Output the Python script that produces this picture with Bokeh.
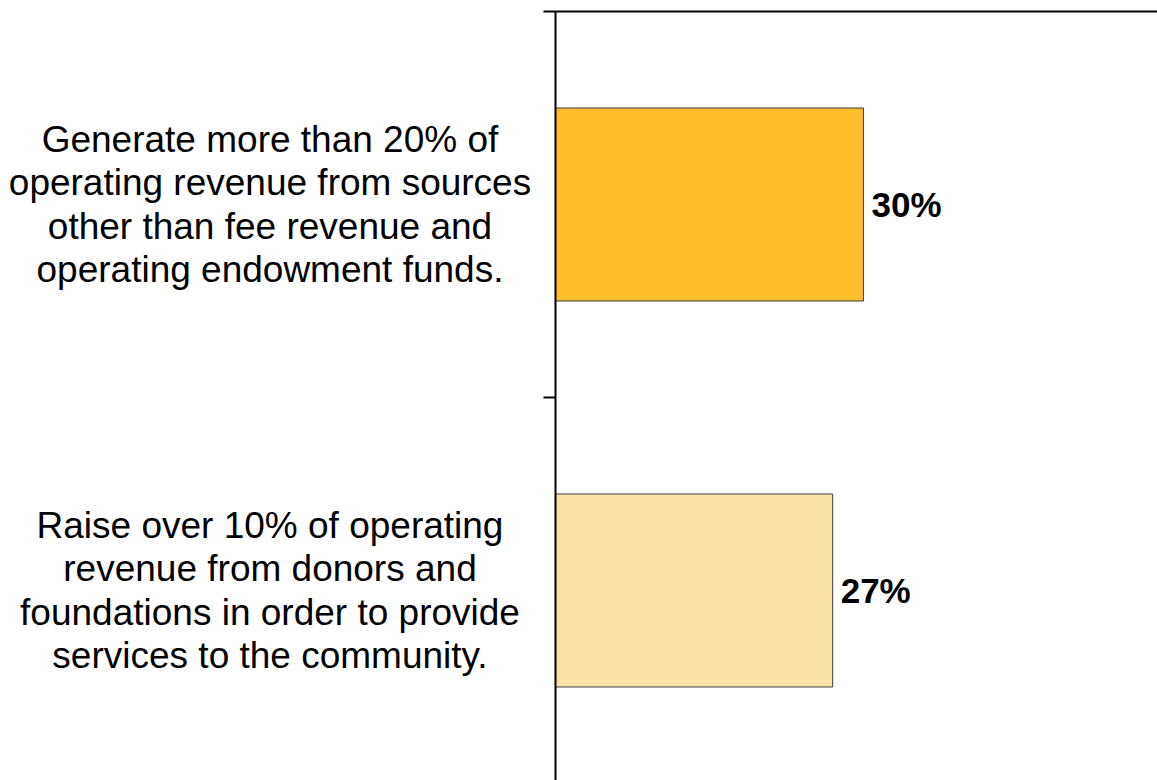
from bokeh.plotting import figure
from bokeh.layouts import row
from bokeh.models import Range1d, FixedTicker, ColumnDataSource, LinearAxis
from bokeh.core.properties import value
from bokeh.embed import file_html
from bokeh.resources import INLINE

categories = [
    "Generate more than 20% of\noperating revenue from sources\nother than fee revenue and\noperating endowment funds.",
    "Raise over 10% of operating\nrevenue from donors and\nfoundations in order to provide\nservices to the community.",
]
values = [0.30, 0.27]
colors = ["#FEBE2B", "#FAE1A6"]
positions = [i + 0.5 for i in range(len(categories))]
pct_labels = ["{:.0f}%".format(v * 100) for v in values]

FONT = "Liberation Sans"
H = 780
TOP = 11

y_range = Range1d(start=(H - TOP) / 386, end=0)

# left panel with category labels
lp = figure(width=539, height=H, output_backend="svg", toolbar_location=None,
            x_range=Range1d(0, 1), y_range=y_range,
            x_axis_type=None, y_axis_type=None,
            min_border_left=0, min_border_right=0, min_border_top=TOP, min_border_bottom=0)
lp.outline_line_color = None
lp.xgrid.visible = False
lp.ygrid.visible = False
lsrc = ColumnDataSource(dict(x=[0.5] * len(categories), y=positions, t=categories))
lp.text(x="x", y="y", text="t", source=lsrc, text_align="center", text_baseline="middle",
        text_font=value(FONT), text_font_size="37px", text_color="black",
        text_line_height=1.06)

# right panel with bars
p = figure(width=1157 - 539, height=H, output_backend="svg", toolbar_location=None,
           x_range=Range1d(0, 0.5864), y_range=y_range,
           x_axis_type=None,
           min_border_left=16, min_border_top=TOP, min_border_bottom=0, min_border_right=0)
p.outline_line_color = None
p.xgrid.visible = False
p.ygrid.visible = False

# top axis: line only
xa = LinearAxis(ticker=FixedTicker(ticks=[]), axis_line_color="black", axis_line_width=2,
                major_tick_line_color=None, minor_tick_line_color=None,
                major_tick_out=0, major_tick_in=0, major_label_standoff=0)
p.add_layout(xa, "above")

ya = p.yaxis[0]
ya.ticker = FixedTicker(ticks=[0, 1, 2])
ya.major_label_text_color = None
ya.major_label_text_font_size = "1px"
ya.major_tick_in = 0
ya.major_tick_out = 12
ya.major_tick_line_width = 2
ya.minor_tick_line_color = None
ya.axis_line_width = 2
ya.axis_line_color = "black"
ya.major_label_standoff = 0

src = ColumnDataSource(dict(y=positions, v=values, c=colors, t=pct_labels))
p.hbar(y="y", left=0, right="v", height=0.5, fill_color="c", line_color="#3c3c3c",
       line_width=1, source=src)
p.text(x="v", y="y", text="t", x_offset=8, text_baseline="middle", text_align="left",
       text_font=value(FONT), text_font_size="35px", text_font_style="bold",
       text_color="black", source=src)

layout = row(lp, p, spacing=0)
open("out.html", "w").write(file_html(layout, INLINE))
